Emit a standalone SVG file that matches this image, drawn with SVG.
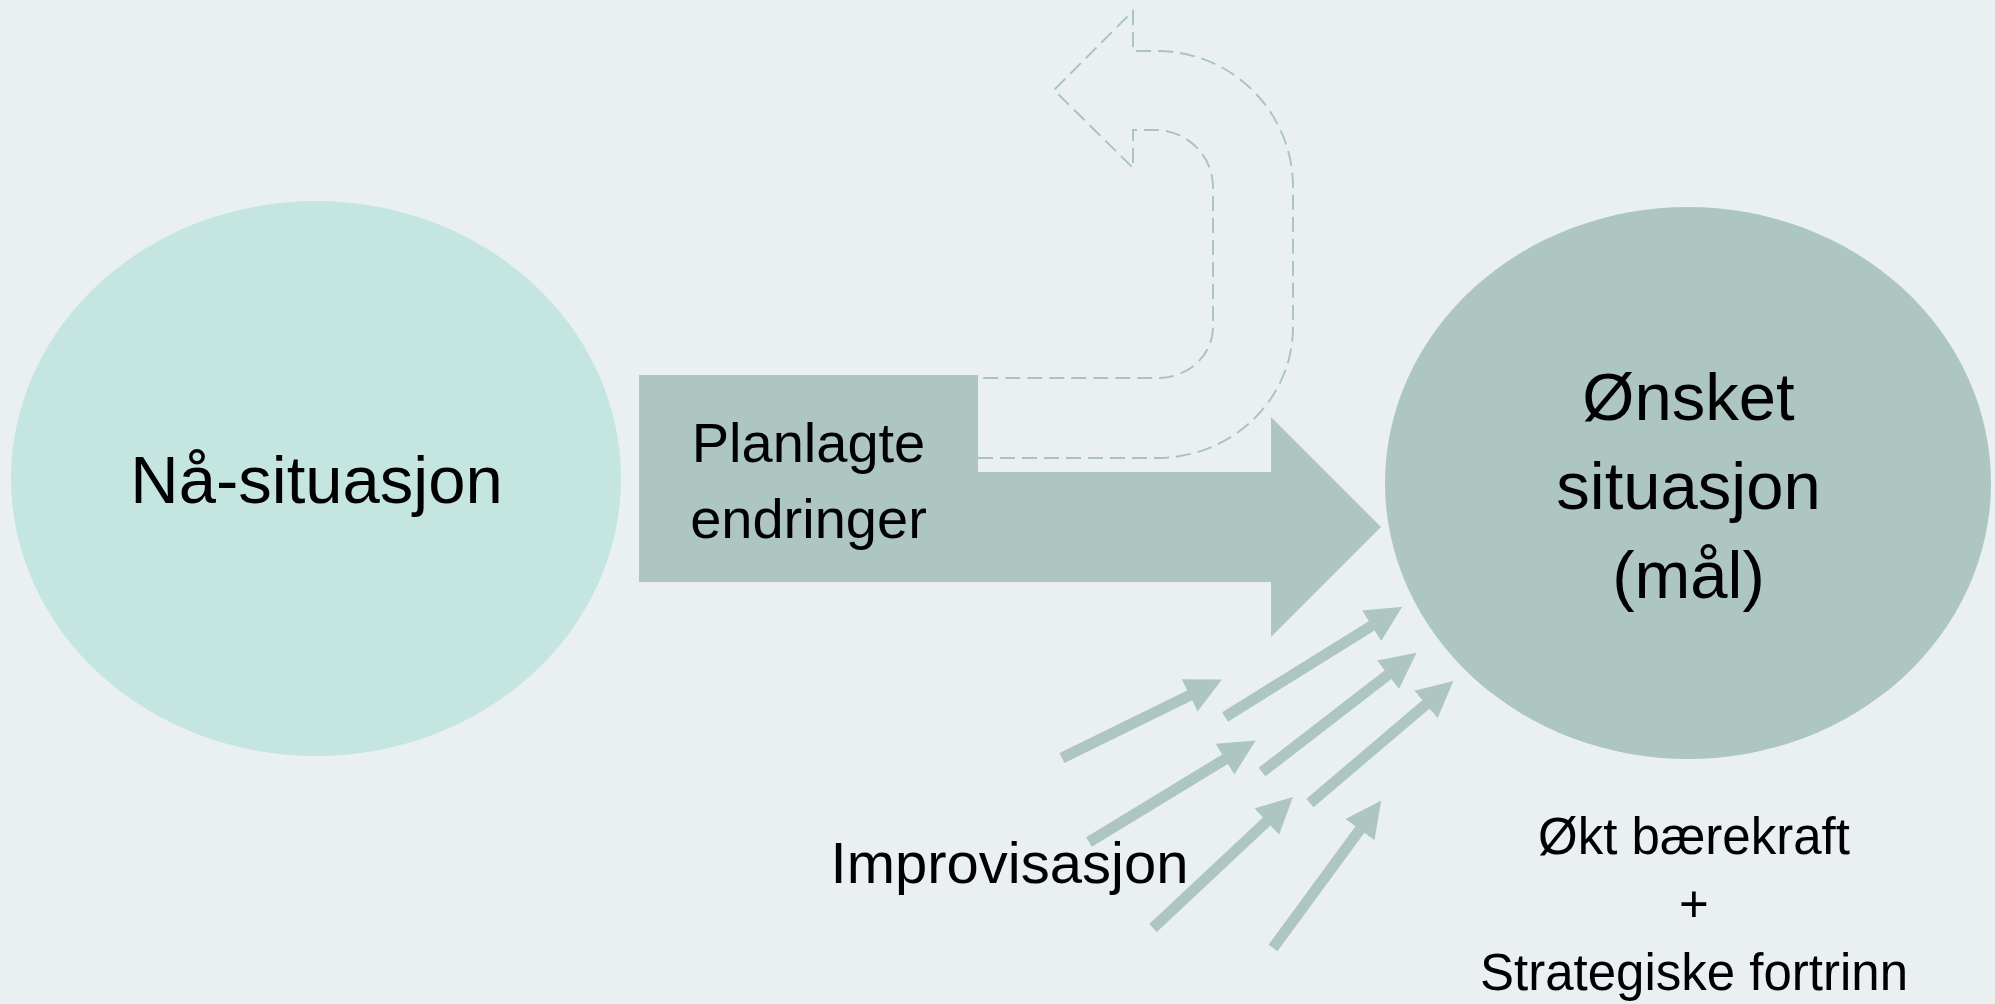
<svg xmlns="http://www.w3.org/2000/svg" width="1995" height="1004" viewBox="0 0 1995 1004">
  <defs>
    <style>
      .lbl { font-family: "Liberation Sans", Arial, sans-serif; fill: #000; text-anchor: middle; }
      .dash { fill: none; stroke: #a9c3bf; stroke-width: 1.9; stroke-dasharray: 15 7; }
      .imp { stroke: #adc6c2; stroke-width: 11; stroke-linecap: butt; fill: none; marker-end: url(#ah); }
    </style>
    <marker id="ah" markerUnits="userSpaceOnUse" viewBox="0 0 36 36" markerWidth="36" markerHeight="36" refX="1" refY="18" orient="auto">
      <path d="M0,0 L36,18 L0,36 Z" fill="#adc6c2"/>
    </marker>
  </defs>

  <rect x="0" y="0" width="1995" height="1004" fill="#eaf0f2"/>

  <g id="uturn">
    <path class="dash" d="M978,458 H1157 A136,131 0 0 0 1293,327 V187 A136,136 0 0 0 1157,51 H1133 V11 L1054,90 L1133,168 V130 H1155 A58,57 0 0 1 1213,187 V327 A55,51 0 0 1 1158,378 H978"/>
  </g>

  <g id="naa-situasjon">
    <ellipse cx="316" cy="478.5" rx="305" ry="277.5" fill="#c5e6e0"/>
    <text class="lbl" x="316.5" y="503" font-size="67">Nå-situasjon</text>
  </g>

  <g id="onsket-situasjon">
    <ellipse cx="1688" cy="483" rx="303" ry="276" fill="#adc6c2"/>
    <text class="lbl" x="1688.5" y="420" font-size="67">Ønsket</text>
    <text class="lbl" x="1688.5" y="509" font-size="67">situasjon</text>
    <text class="lbl" x="1688.5" y="598" font-size="67">(mål)</text>
  </g>

  <g id="planlagte-endringer">
    <path d="M639,472 H1271 V417 L1381,527 L1271,637 V582 H639 Z" fill="#adc6c2"/>
    <rect x="639" y="375" width="339" height="207" fill="#adc6c2"/>
    <text class="lbl" x="808.5" y="462" font-size="56">Planlagte</text>
    <text class="lbl" x="808.5" y="538" font-size="56">endringer</text>
  </g>

  <g id="connectors">
    <line class="imp" x1="1062" y1="758" x2="1190.5" y2="695"/>
    <line class="imp" x1="1225" y1="717" x2="1372.5" y2="625.3"/>
    <line class="imp" x1="1089" y1="842" x2="1225.8" y2="758.7"/>
    <line class="imp" x1="1262" y1="772" x2="1388.8" y2="674.2"/>
    <line class="imp" x1="1153" y1="928" x2="1267.5" y2="820.8"/>
    <line class="imp" x1="1310" y1="803" x2="1426.7" y2="703.7"/>
    <line class="imp" x1="1273" y1="948" x2="1360.5" y2="828.8"/>
  </g>

  <g id="improvisasjon">
    <text class="lbl" x="1009.5" y="883" font-size="58">Improvisasjon</text>
  </g>

  <g id="resultat">
    <text class="lbl" x="1694" y="854" font-size="51">Økt bærekraft</text>
    <text class="lbl" x="1694" y="922" font-size="51">+</text>
    <text class="lbl" x="1694" y="990" font-size="51">Strategiske fortrinn</text>
  </g>
</svg>
